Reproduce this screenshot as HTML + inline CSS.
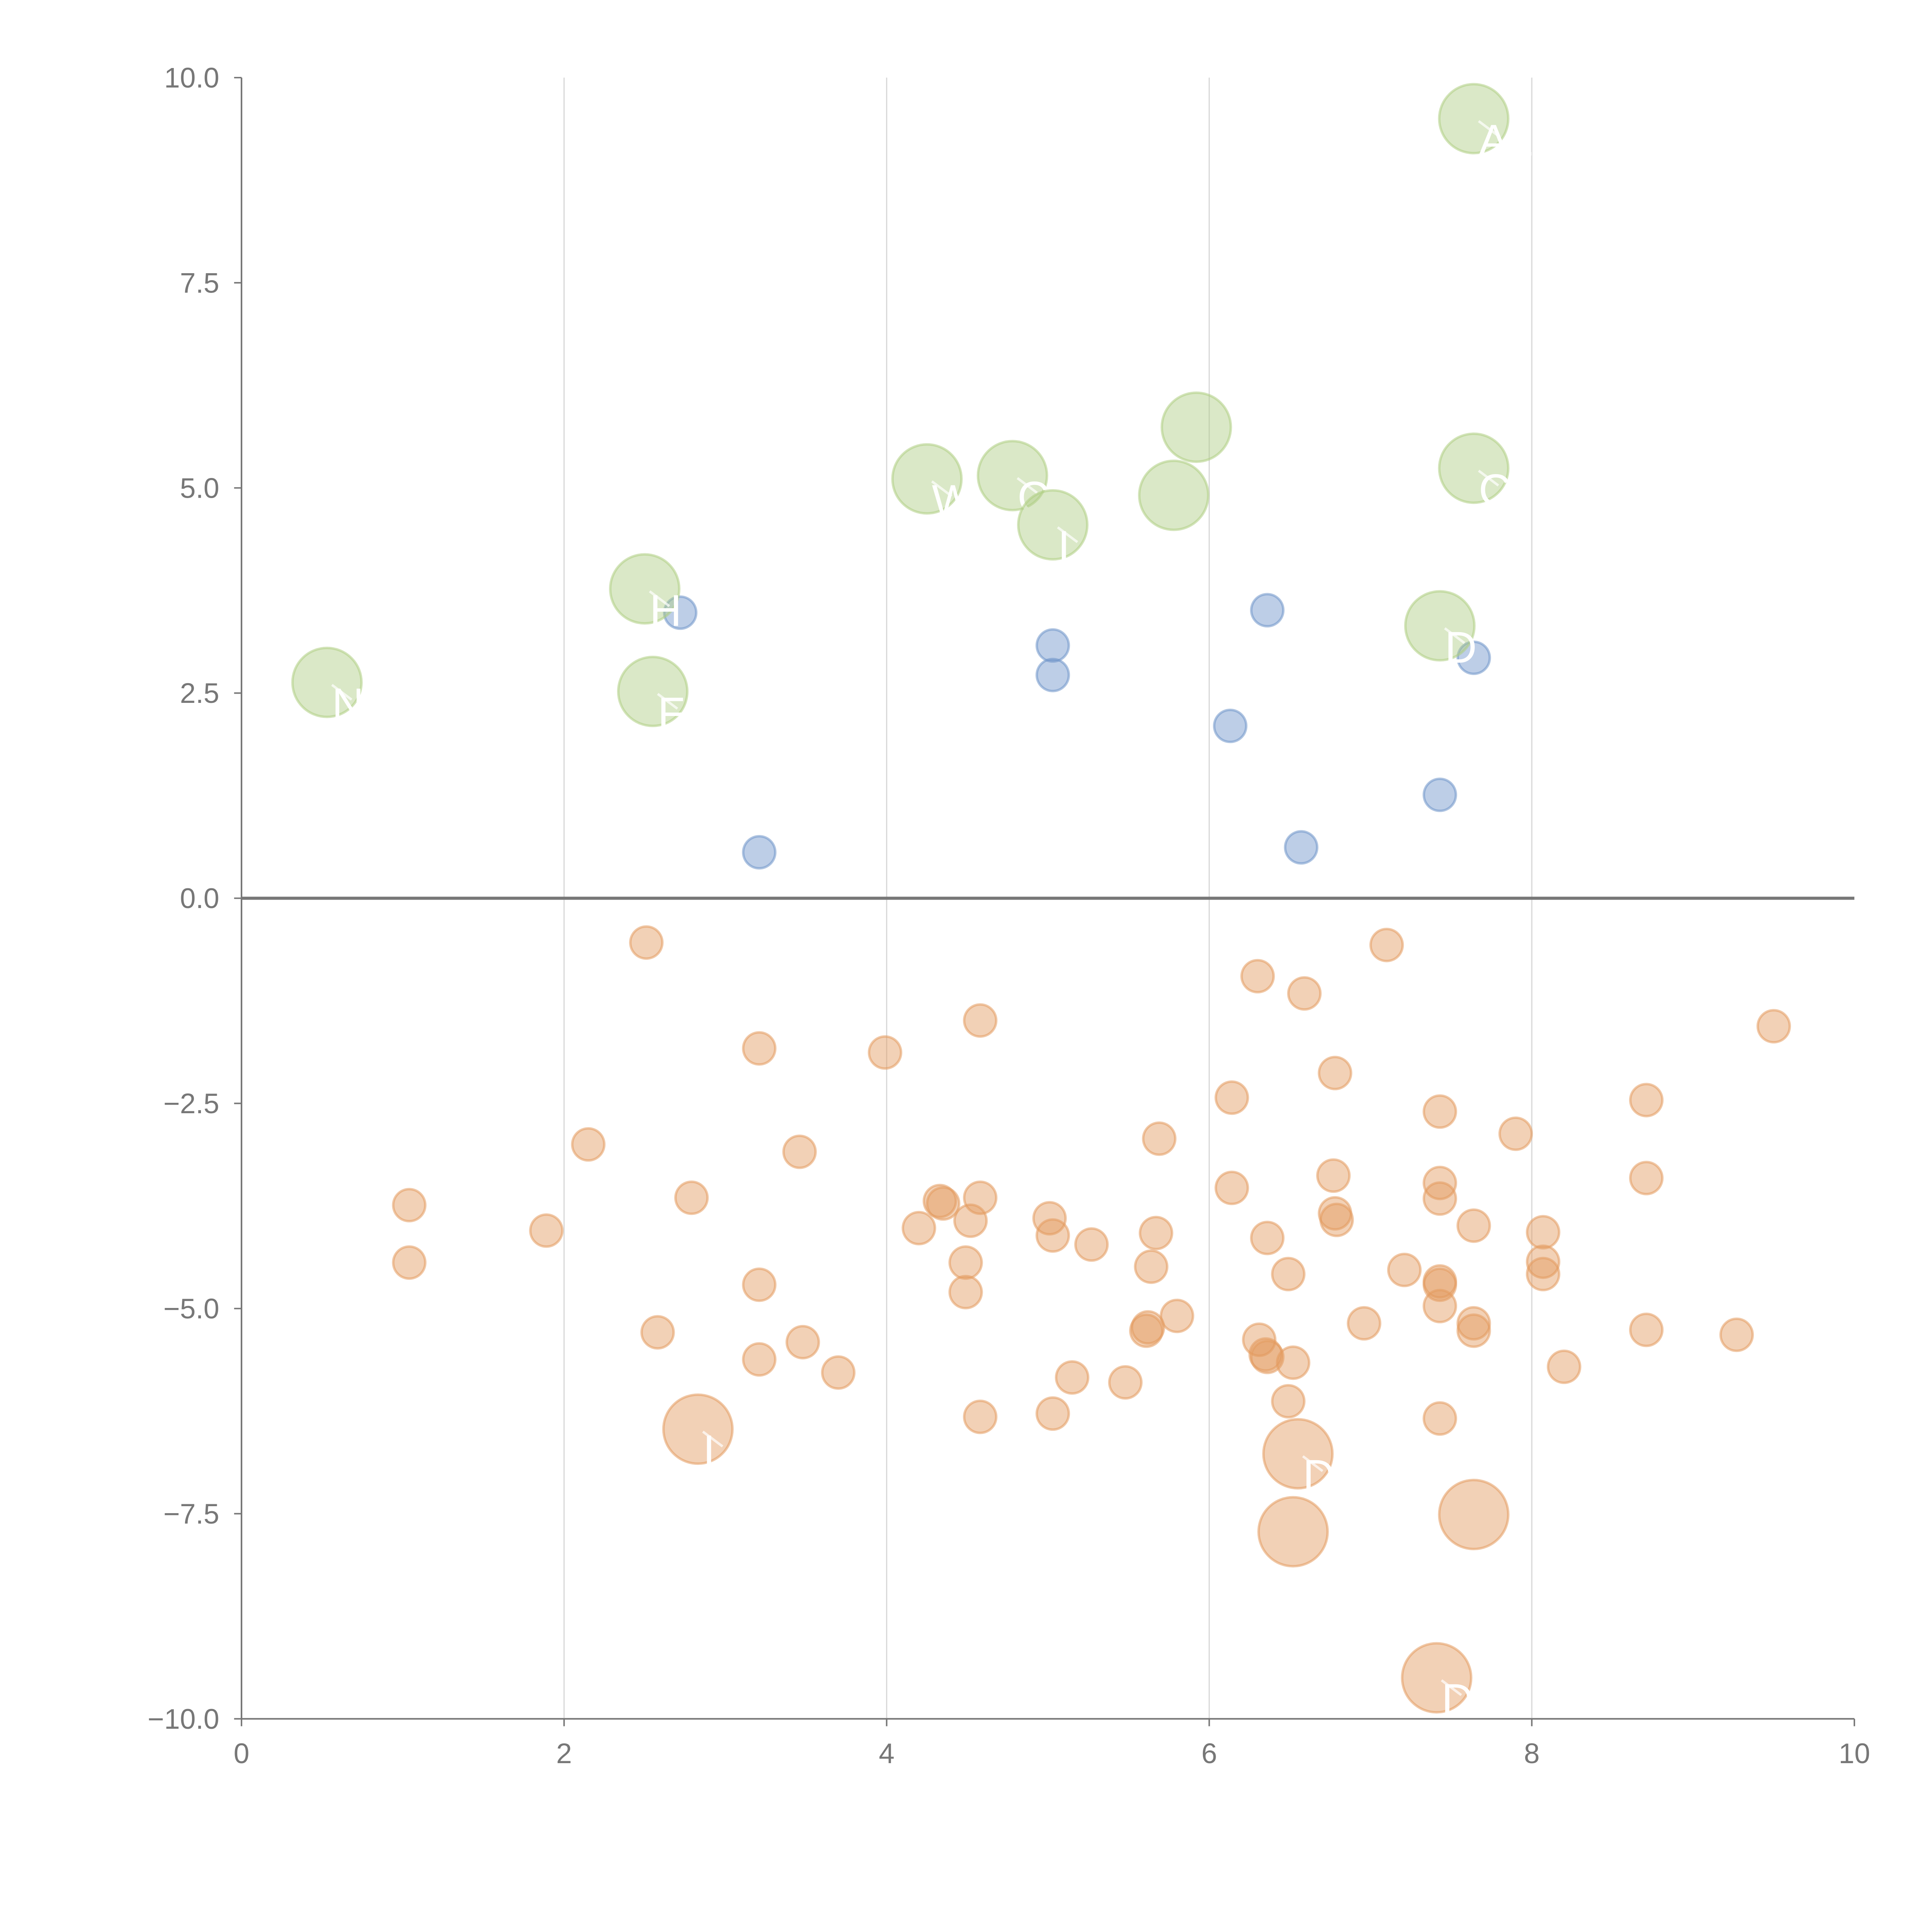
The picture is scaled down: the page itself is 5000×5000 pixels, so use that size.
<!DOCTYPE html>
<html><head><meta charset="utf-8"><style>
html,body{margin:0;padding:0;background:#fff;width:5000px;height:5000px;overflow:hidden}
svg{display:block}
text{font-family:"Liberation Sans",Arial,sans-serif}
</style></head><body>
<svg id="chart" width="5000" height="5000" viewBox="0 0 1568 1568" xmlns="http://www.w3.org/2000/svg">
<g id="grid"></g>
<g id="axes"></g>
<g id="marks"></g>
</svg>
<script>
const xTicks = [0, 2, 4, 6, 8, 10];
const yTicks = [10, 7.5, 5, 2.5, 0, -2.5, -5, -7.5, -10];
const yTickLabels = ["10.0", "7.5", "5.0", "2.5", "0.0", "\u22122.5", "\u22125.0", "\u22127.5", "\u221210.0"];

const blueX = [2.72, 3.21, 5.03, 5.03, 6.36, 6.13, 6.57, 7.43, 7.64];
const blueY = [3.48, 0.56, 3.08, 2.72, 3.51, 2.10, 0.62, 1.26, 2.93];

const greenX = [0.53, 2.50, 2.55, 4.25, 4.78, 5.03, 5.78, 5.92, 7.64, 7.64, 7.43];
const greenY = [2.63, 3.77, 2.52, 5.11, 5.15, 4.55, 4.91, 5.74, 9.50, 5.24, 3.32];
const greenLabels = ["N", "H", "F", "W", "CA", "I", "", "", "AL", "CI", "D"];

const orangeBigX = [2.83, 6.55, 6.52, 7.64, 7.41];
const orangeBigY = [-6.47, -6.77, -7.72, -7.51, -9.50];
const orangeBigLabels = ["I", "D", "", "", "DA"];

const orangeX = [2.51,7.10,6.30,6.59,4.58,9.50,3.21,3.99,6.78,6.14,8.71,7.43,7.90,5.69,2.15,3.46,6.77,8.71,6.14,7.43,7.43,1.04,2.79,4.33,4.35,4.58,5.01,6.78,6.79,4.52,4.20,7.64,1.89,5.03,5.67,6.36,8.07,5.27,8.07,8.07,1.04,4.49,5.64,7.21,6.49,7.43,7.43,3.21,4.49,7.43,5.80,6.96,7.64,7.64,5.62,5.61,2.58,8.71,9.27,3.48,6.31,6.35,6.36,3.21,6.52,8.20,3.70,5.15,5.48,6.49,5.03,4.58,7.43];
const orangeY = [-0.54,-0.57,-0.95,-1.16,-1.49,-1.56,-1.83,-1.88,-2.13,-2.43,-2.46,-2.60,-2.87,-2.93,-3.00,-3.09,-3.38,-3.41,-3.53,-3.47,-3.66,-3.74,-3.65,-3.69,-3.72,-3.65,-3.90,-3.84,-3.92,-3.93,-4.02,-3.99,-4.05,-4.11,-4.08,-4.14,-4.07,-4.22,-4.43,-4.58,-4.44,-4.44,-4.49,-4.53,-4.58,-4.67,-4.71,-4.71,-4.80,-4.97,-5.09,-5.18,-5.18,-5.27,-5.23,-5.27,-5.29,-5.26,-5.32,-5.41,-5.38,-5.56,-5.59,-5.62,-5.66,-5.71,-5.78,-5.84,-5.90,-6.13,-6.28,-6.32,-6.34];

const NS = "http://www.w3.org/2000/svg";
const X0 = 196, X1 = 1505, Y0 = 1395, Y1 = 63;
function sx(v){ return X0 + (v - 0) / 10 * (X1 - X0); }
function sy(v){ return Y0 - (v + 10) / 20 * (Y0 - Y1); }
function mk(tag, attrs, parent){ const e = document.createElementNS(NS, tag); for (const k in attrs) e.setAttribute(k, attrs[k]); parent.appendChild(e); return e; }

const grid = document.getElementById('grid');
const axes = document.getElementById('axes');
const marks = document.getElementById('marks');

xTicks.forEach((t) => {
  if (t > 0 && t < 10) {
    const g = mk('line', {x1: sx(t), x2: sx(t), y1: Y1, y2: Y0, stroke: '#d9d9d9', 'stroke-width': 1}, grid);
    
    
  }
  const tk = mk('line', {x1: sx(t), x2: sx(t), y1: Y0, y2: Y0 + 6, stroke: '#777', 'stroke-width': 1.2}, axes);
  
  
  const lb = mk('text', {x: sx(t), y: Y0 + 36, 'text-anchor': 'middle', 'font-size': 23, fill: '#777'}, axes);
  lb.textContent = String(t);
  
  
});
yTicks.forEach((t, i) => {
  const tk = mk('line', {x1: X0 - 6, x2: X0, y1: sy(t), y2: sy(t), stroke: '#777', 'stroke-width': 1.2}, axes);
  
  
  const lb = mk('text', {x: X0 - 18, y: sy(t) + 8, 'text-anchor': 'end', 'font-size': 23, fill: '#777'}, axes);
  lb.textContent = yTickLabels[i];
  
  
});
const xa = mk('line', {x1: X0, x2: X1, y1: Y0, y2: Y0, stroke: '#777', 'stroke-width': 1.3}, axes);


const ya = mk('line', {x1: X0, x2: X0, y1: Y1, y2: Y0, stroke: '#777', 'stroke-width': 1.3}, axes);


const zl = mk('line', {x1: X0, x2: X1, y1: sy(0), y2: sy(0), stroke: '#777', 'stroke-width': 2.5}, axes);



function drawSeries(xs, ys, r, fill, stroke, name, labels) {
  xs.forEach((x, i) => {
    const c = mk('circle', {cx: sx(x), cy: sy(ys[i]), r: r, fill: fill, 'fill-opacity': 0.45, stroke: stroke, 'stroke-opacity': 0.55, 'stroke-width': 2}, marks);
    
    
    if (labels && labels[i]) {
      const ln = mk('line', {x1: sx(x) + 4, y1: sy(ys[i]) + 2, x2: sx(x) + 20, y2: sy(ys[i]) + 14, stroke: '#fff', 'stroke-opacity': 0.7, 'stroke-width': 2}, marks);
      
      
      const t = mk('text', {x: sx(x) + 4, y: sy(ys[i]) + 30, 'font-size': 36, fill: '#fff'}, marks);
      t.textContent = labels[i];
      
      
    }
  });
}
drawSeries(orangeX, orangeY, 13, '#e39a5e', '#e39a5e', 'orange-point');
drawSeries(orangeBigX, orangeBigY, 28, '#e39a5e', '#e39a5e', 'orange-large-point', orangeBigLabels);
drawSeries(blueX, blueY, 13, '#6d93c9', '#6d93c9', 'blue-point');
drawSeries(greenX, greenY, 28, '#aecd82', '#aecd82', 'green-point', greenLabels);
</script>
</body></html>
